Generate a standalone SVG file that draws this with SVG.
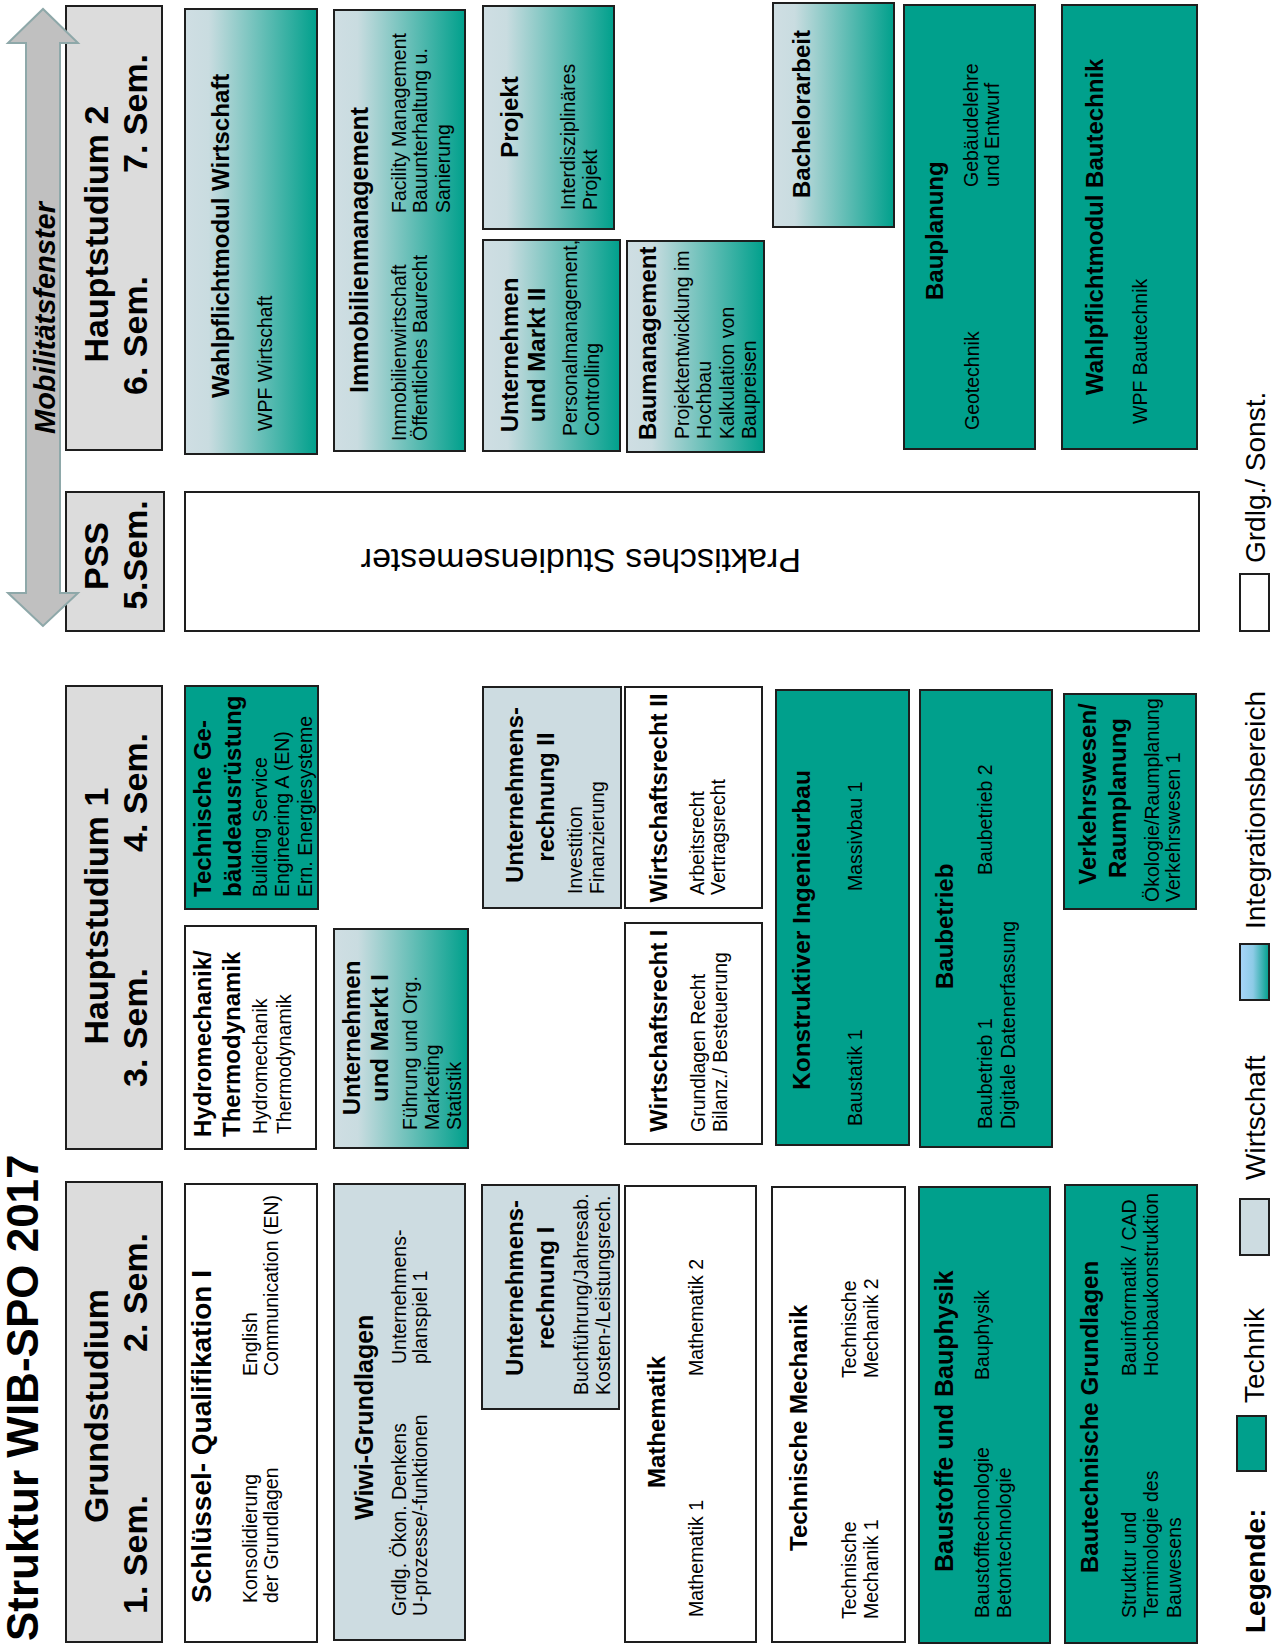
<svg xmlns="http://www.w3.org/2000/svg" width="1284" height="1644" viewBox="0 0 1284 1644">
  <defs>
    <!-- Integrationsbereich: light grey-blue fading into teal -->
    <linearGradient id="integration" x1="0" y1="0" x2="0" y2="1">
      <stop offset="0" stop-color="#cfdee3"/>
      <stop offset="0.18" stop-color="#c9dce0"/>
      <stop offset="1" stop-color="#00a08c"/>
    </linearGradient>
    <linearGradient id="legendGrad" x1="0" y1="0" x2="0" y2="1">
      <stop offset="0" stop-color="#a8d5fa"/>
      <stop offset="0.45" stop-color="#8dcbe6"/>
      <stop offset="1" stop-color="#00a08c"/>
    </linearGradient>
    <style>
      text { font-family: "Liberation Sans", Arial, Helvetica, sans-serif; fill: #000; }
      .box { stroke: #1e1e1e; stroke-width: 2; }
      .hdr { fill: #dcdcdc; }
      .tech { fill: #00a08c; }
      .wiwi { fill: #cddce1; }
      .grad { fill: url(#integration); }
      .plain { fill: #ffffff; }
      .title { font-size: 44px; font-weight: bold; }
      .h { font-size: 34px; font-weight: bold; }
      .t { font-size: 24px; font-weight: bold; }
      .b { font-size: 19.5px; }
      .m { text-anchor: middle; }
      .lg { font-size: 28px; }
      .arrow { fill: #c0c0c0; stroke: #8ea8a9; stroke-width: 2; }
      .arrowlabel { font-size: 29px; font-weight: bold; font-style: italic; }
    </style>
  </defs>

  <rect width="1284" height="1644" fill="#ffffff"/>

  <!-- The whole chart is laid out in landscape and turned a quarter counter-clockwise -->
  <g transform="translate(0 1644) rotate(-90)">

    <text class="title" x="3" y="38">Struktur WIB-SPO 2017</text>

    <!-- semester headers -->
    <g id="hdr-grundstudium">
      <rect class="box hdr" x="2" y="66" width="460" height="96"/>
      <text class="h m" x="238" y="108">Grundstudium</text>
      <text class="h" x="30" y="147">1. Sem.</text>
      <text class="h" x="292" y="147">2. Sem.</text>
    </g>
    <g id="hdr-hauptstudium1">
      <rect class="box hdr" x="495" y="66" width="463" height="96"/>
      <text class="h m" x="728" y="108">Hauptstudium 1</text>
      <text class="h" x="557" y="147">3. Sem.</text>
      <text class="h" x="792" y="147">4. Sem.</text>
    </g>
    <g id="hdr-pss">
      <rect class="box hdr" x="1013" y="66" width="139" height="98"/>
      <text class="h m" x="1088" y="108">PSS</text>
      <text class="h m" x="1089" y="147">5.Sem.</text>
    </g>
    <g id="hdr-hauptstudium2">
      <rect class="box hdr" x="1194" y="66" width="444" height="96"/>
      <text class="h m" x="1410" y="108">Hauptstudium 2</text>
      <text class="h" x="1249" y="147">6. Sem.</text>
      <text class="h" x="1471" y="147">7. Sem.</text>
    </g>

    <!-- Mobilitätsfenster double arrow -->
    <g id="connectors">
      <g id="mobilitaetsfenster">
        <path class="arrow" d="M1018,43 L1051,8 L1051,26 L1601,26 L1601,8 L1635,43 L1601,78 L1601,60 L1051,60 L1051,78 Z"/>
        <text class="arrowlabel m" x="1326" y="55">Mobilitätsfenster</text>
      </g>
    </g>

    <!-- Grundstudium -->
    <g id="schluesselqualifikation">
      <rect class="box plain" x="2" y="185" width="458" height="132"/>
      <text class="t" x="41" y="211" style="font-size:28px">Schlüssel- Qualifikation I</text>
      <text class="b" x="41" y="257">Konsolidierung</text>
      <text class="b" x="41" y="278">der Grundlagen</text>
      <text class="b" x="268" y="257">English</text>
      <text class="b" x="268" y="278">Communication (EN)</text>
    </g>
    <g id="wiwi-grundlagen">
      <rect class="box wiwi" x="4" y="334" width="456" height="131"/>
      <text class="t" x="124" y="373" style="font-size:25px">Wiwi-Grundlagen</text>
      <text class="b" x="28" y="406">Grdlg. Ökon. Denkens</text>
      <text class="b" x="28" y="427">U-prozesse/-funktionen</text>
      <text class="b" x="280" y="406">Unternehmens-</text>
      <text class="b" x="280" y="427">planspiel 1</text>
    </g>
    <g id="unternehmensrechnung1">
      <rect class="box wiwi" x="235" y="482" width="224" height="137"/>
      <text class="t m" x="356" y="523">Unternehmens-</text>
      <text class="t m" x="356" y="554">rechnung I</text>
      <text class="b" x="249" y="588">Buchführung/Jahresab.</text>
      <text class="b" x="249" y="610">Kosten-/Leistungsrech.</text>
    </g>
    <g id="mathematik">
      <rect class="box plain" x="2" y="625" width="456" height="131"/>
      <text class="t" x="156" y="665">Mathematik</text>
      <text class="b" x="27" y="703">Mathematik 1</text>
      <text class="b" x="268" y="703">Mathematik 2</text>
    </g>
    <g id="technische-mechanik">
      <rect class="box plain" x="2" y="772" width="455" height="133"/>
      <text class="t" x="93" y="807">Technische Mechanik</text>
      <text class="b" x="25" y="856">Technische</text>
      <text class="b" x="25" y="878">Mechanik 1</text>
      <text class="b" x="266" y="856">Technische</text>
      <text class="b" x="266" y="878">Mechanik 2</text>
    </g>
    <g id="baustoffe-bauphysik">
      <rect class="box tech" x="1" y="919" width="456" height="131"/>
      <text class="t" x="72" y="953" style="font-size:25px">Baustoffe und Bauphysik</text>
      <text class="b" x="26" y="989">Baustofftechnologie</text>
      <text class="b" x="26" y="1011">Betontechnologie</text>
      <text class="b" x="264" y="989">Bauphysik</text>
    </g>
    <g id="bautechnische-grundlagen">
      <rect class="box tech" x="1" y="1065" width="458" height="132"/>
      <text class="t" x="71" y="1098">Bautechnische Grundlagen</text>
      <text class="b" x="26" y="1136">Struktur und</text>
      <text class="b" x="26" y="1158">Terminologie des</text>
      <text class="b" x="26" y="1181">Bauwesens</text>
      <text class="b" x="268" y="1136">Bauinformatik / CAD</text>
      <text class="b" x="268" y="1158">Hochbaukonstruktion</text>
    </g>

    <!-- Hauptstudium 1 -->
    <g id="hydromechanik-thermodynamik">
      <rect class="box plain" x="495" y="185" width="223" height="131"/>
      <text class="t" x="507" y="211">Hydromechanik/</text>
      <text class="t" x="507" y="240">Thermodynamik</text>
      <text class="b" x="510" y="267">Hydromechanik</text>
      <text class="b" x="510" y="291">Thermodynamik</text>
    </g>
    <g id="technische-gebaeudeausruestung">
      <rect class="box tech" x="735" y="185" width="223" height="133"/>
      <text class="t" x="747" y="211">Technische Ge-</text>
      <text class="t" x="747" y="241">bäudeausrüstung</text>
      <text class="b" x="747" y="267">Building Service</text>
      <text class="b" x="747" y="289">Engineering A (EN)</text>
      <text class="b" x="747" y="312">Ern. Energiesysteme</text>
    </g>
    <g id="unternehmen-markt1">
      <rect class="box grad" x="496" y="334" width="219" height="134"/>
      <text class="t m" x="606" y="360">Unternehmen</text>
      <text class="t m" x="606" y="388">und Markt I</text>
      <text class="b" x="514" y="417">Führung und Org.</text>
      <text class="b" x="514" y="439">Marketing</text>
      <text class="b" x="514" y="461">Statistik</text>
    </g>
    <g id="unternehmensrechnung2">
      <rect class="box wiwi" x="736" y="483" width="221" height="138"/>
      <text class="t m" x="849" y="523">Unternehmens-</text>
      <text class="t m" x="847" y="554">rechnung II</text>
      <text class="b" x="750" y="582">Investition</text>
      <text class="b" x="750" y="604">Finanzierung</text>
    </g>
    <g id="wirtschaftsrecht2">
      <rect class="box plain" x="736" y="625" width="221" height="137"/>
      <text class="t m" x="846" y="667">Wirtschaftsrecht II</text>
      <text class="b" x="749" y="704">Arbeitsrecht</text>
      <text class="b" x="749" y="725">Vertragsrecht</text>
    </g>
    <g id="wirtschaftsrecht1">
      <rect class="box plain" x="500" y="625" width="221" height="137"/>
      <text class="t" x="512" y="667">Wirtschaftsrecht I</text>
      <text class="b" x="512" y="705">Grundlagen Recht</text>
      <text class="b" x="512" y="727">Bilanz./ Besteuerung</text>
    </g>
    <g id="konstruktiver-ingenieurbau">
      <rect class="box tech" x="499" y="776" width="455" height="133"/>
      <text class="t" x="554" y="810" style="font-size:24.5px">Konstruktiver Ingenieurbau</text>
      <text class="b" x="518" y="862">Baustatik 1</text>
      <text class="b" x="753" y="862">Massivbau 1</text>
    </g>
    <g id="baubetrieb">
      <rect class="box tech" x="497" y="920" width="457" height="132"/>
      <text class="t" x="655" y="953">Baubetrieb</text>
      <text class="b" x="515" y="992">Baubetrieb 1</text>
      <text class="b" x="515" y="1015">Digitale Datenerfassung</text>
      <text class="b" x="769" y="992">Baubetrieb 2</text>
    </g>
    <g id="verkehrswesen-raumplanung">
      <rect class="box tech" x="735" y="1064" width="215" height="132"/>
      <text class="t m" x="850" y="1096">Verkehrswesen/</text>
      <text class="t m" x="846" y="1126">Raumplanung</text>
      <text class="b" x="742" y="1159">Ökologie/Raumplanung</text>
      <text class="b" x="742" y="1180">Verkehrswesen 1</text>
    </g>

    <!-- Praktisches Studiensemester -->
    <g id="praktisches-studiensemester">
      <rect class="box plain" x="1013" y="185" width="139" height="1014"/>
      <text x="1095" y="801" transform="rotate(-90 1095 801)" style="font-size:34px">Praktisches Studiensemester</text>
    </g>

    <!-- Hauptstudium 2 -->
    <g id="wpf-wirtschaft">
      <rect class="box grad" x="1190" y="185" width="445" height="132"/>
      <text class="t" x="1246" y="229">Wahlpflichtmodul Wirtschaft</text>
      <text class="b" x="1213" y="272">WPF Wirtschaft</text>
    </g>
    <g id="immobilienmanagement">
      <rect class="box grad" x="1193" y="334" width="441" height="131"/>
      <text class="t" x="1251" y="368" style="font-size:25px">Immobilienmanagement</text>
      <text class="b" x="1203" y="406">Immobilienwirtschaft</text>
      <text class="b" x="1203" y="427">Öffentliches Baurecht</text>
      <text class="b" x="1431" y="406">Facility Management</text>
      <text class="b" x="1431" y="427">Bauunterhaltung u.</text>
      <text class="b" x="1431" y="450">Sanierung</text>
    </g>
    <g id="projekt">
      <rect class="box grad" x="1415" y="483" width="223" height="131"/>
      <text class="t m" x="1527" y="518">Projekt</text>
      <text class="b" x="1434" y="575">Interdisziplinäres</text>
      <text class="b" x="1434" y="597">Projekt</text>
    </g>
    <g id="unternehmen-markt2">
      <rect class="box grad" x="1193" y="483" width="211" height="137"/>
      <text class="t m" x="1289" y="518">Unternehmen</text>
      <text class="t m" x="1289" y="545">und Markt II</text>
      <text class="b" x="1208" y="577">Personalmanagement,</text>
      <text class="b" x="1208" y="599">Controlling</text>
    </g>
    <g id="baumanagement">
      <rect class="box grad" x="1192" y="627" width="211" height="137"/>
      <text class="t" x="1204" y="656">Baumanagement</text>
      <text class="b" x="1205" y="689">Projektentwicklung im</text>
      <text class="b" x="1205" y="711">Hochbau</text>
      <text class="b" x="1205" y="734">Kalkulation von</text>
      <text class="b" x="1205" y="756">Baupreisen</text>
    </g>
    <g id="bachelorarbeit">
      <rect class="box grad" x="1417" y="773" width="224" height="121"/>
      <text class="t m" x="1530" y="810">Bachelorarbeit</text>
    </g>
    <g id="bauplanung">
      <rect class="box tech" x="1195" y="904" width="444" height="131"/>
      <text class="t" x="1344" y="943">Bauplanung</text>
      <text class="b" x="1214" y="979">Geotechnik</text>
      <text class="b" x="1457" y="978">Gebäudelehre</text>
      <text class="b" x="1457" y="999">und Entwurf</text>
    </g>
    <g id="wpf-bautechnik">
      <rect class="box tech" x="1195" y="1062" width="444" height="135"/>
      <text class="t" x="1249" y="1103">Wahlpflichtmodul Bautechnik</text>
      <text class="b" x="1220" y="1147">WPF Bautechnik</text>
    </g>

    <!-- legend -->
    <g id="legende">
      <text class="lg" x="11" y="1265" style="font-weight:bold">Legende:</text>
      <rect class="box tech" x="173" y="1237" width="55" height="29"/>
      <text class="lg" x="241" y="1264">Technik</text>
      <rect class="box wiwi" x="389" y="1240" width="56" height="29"/>
      <text class="lg" x="464" y="1265">Wirtschaft</text>
      <rect class="box" x="644" y="1240" width="56" height="29" fill="url(#legendGrad)"/>
      <text class="lg" x="715" y="1265">Integrationsbereich</text>
      <rect class="box plain" x="1013" y="1240" width="57" height="29"/>
      <text class="lg" x="1081" y="1265">Grdlg./ Sonst.</text>
    </g>
  </g>
</svg>
